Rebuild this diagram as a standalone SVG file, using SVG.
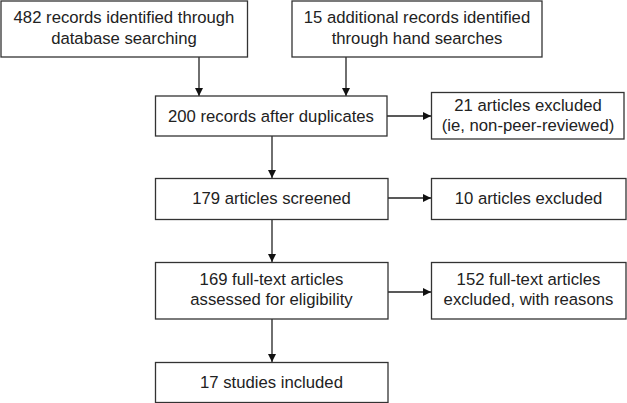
<svg xmlns="http://www.w3.org/2000/svg" width="627" height="403" viewBox="0 0 627 403">
<defs>
<style>
.box{fill:#fff;stroke:#333;stroke-width:1.3}
.t{font-family:"Liberation Sans",Arial,sans-serif;font-size:16.7px;fill:#222;text-anchor:middle}
.c{stroke:#222;stroke-width:1.3;fill:none}
</style>
<marker id="ah" viewBox="0 0 10 10" refX="10" refY="5" markerWidth="8" markerHeight="8" markerUnits="userSpaceOnUse" orient="auto">
<path d="M0,0 L10,5 L0,10 Z" fill="#111"/>
</marker>
</defs>
<rect width="627" height="403" fill="#fff"/>
<g id="connectors">
<line class="c" x1="199" y1="57" x2="199" y2="96" marker-end="url(#ah)"/>
<line class="c" x1="346" y1="57" x2="346" y2="96" marker-end="url(#ah)"/>
<line class="c" x1="387" y1="116" x2="431" y2="116" marker-end="url(#ah)"/>
<line class="c" x1="272" y1="136" x2="272" y2="178" marker-end="url(#ah)"/>
<line class="c" x1="388" y1="198" x2="431" y2="198" marker-end="url(#ah)"/>
<line class="c" x1="272" y1="219" x2="272" y2="262" marker-end="url(#ah)"/>
<line class="c" x1="388" y1="292" x2="431" y2="292" marker-end="url(#ah)"/>
<line class="c" x1="272" y1="319" x2="272" y2="362" marker-end="url(#ah)"/>
</g>
<g id="n1"><rect class="box" x="1" y="1" width="246.5" height="56"/>
<text class="t" x="124" y="23">482 records identified through</text>
<text class="t" x="124" y="43.5">database searching</text></g>
<g id="n2"><rect class="box" x="292" y="1" width="250" height="56"/>
<text class="t" x="417" y="23">15 additional records identified</text>
<text class="t" x="417" y="43.5">through hand searches</text></g>
<g id="n3"><rect class="box" x="155.5" y="96" width="231.5" height="40"/>
<text class="t" x="271" y="121.5">200 records after duplicates</text></g>
<g id="n4"><rect class="box" x="431.5" y="92.5" width="192.5" height="46.5"/>
<text class="t" x="528" y="110.5">21 articles excluded</text>
<text class="t" x="528" y="131">(ie, non-peer-reviewed)</text></g>
<g id="n5"><rect class="box" x="155.5" y="178.5" width="232.5" height="41"/>
<text class="t" x="271.5" y="204">179 articles screened</text></g>
<g id="n6"><rect class="box" x="431.5" y="178.5" width="194.5" height="41"/>
<text class="t" x="528.5" y="204">10 articles excluded</text></g>
<g id="n7"><rect class="box" x="155.5" y="262.5" width="232.5" height="56.5"/>
<text class="t" x="271.5" y="285">169 full-text articles</text>
<text class="t" x="271.5" y="305">assessed for eligibility</text></g>
<g id="n8"><rect class="box" x="431.5" y="262.5" width="194.5" height="56.5"/>
<text class="t" x="528.5" y="285">152 full-text articles</text>
<text class="t" x="528.5" y="305">excluded, with reasons</text></g>
<g id="n9"><rect class="box" x="155.5" y="362.5" width="232.5" height="40"/>
<text class="t" x="271.5" y="387.5">17 studies included</text></g>
</svg>
